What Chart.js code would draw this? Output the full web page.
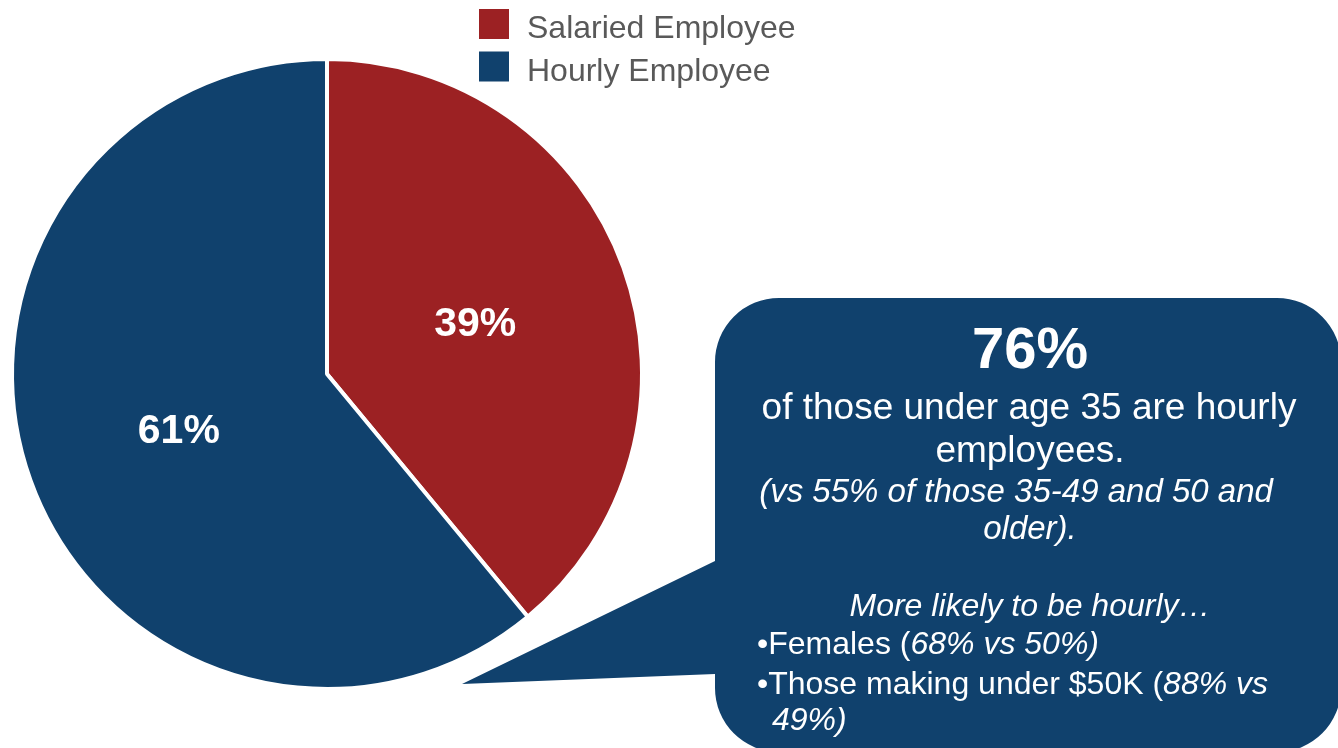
<!DOCTYPE html>
<html>
<head>
<meta charset="utf-8">
<script src="https://cdn.jsdelivr.net/npm/chart.js@4.4.1/dist/chart.umd.min.js"></script>
<style>
  html, body { margin: 0; padding: 0; background: #fff; }
  #wrap { width: 1338px; height: 748px; }
</style>
</head>
<body>
<div id="wrap"><canvas id="employee-type" width="1338" height="748"></canvas></div>
<script>
var labels = ["Salaried Employee", "Hourly Employee"];
var shares = [39, 61];
var colors = ["#9C2123", "#10416D"];

// callout copy
var headline = "76%";
var bodyLines = ["of those under age 35 are hourly", "employees."];
var noteLines = ["(vs 55% of those 35-49 and 50 and", "older)."];
var likelyTitle = "More likely to be hourly\u2026";
// each bullet line is a list of [text, italic] runs
var bulletLines = [
  [["\u2022Females (", false], ["68% vs 50%)", true]],
  [["\u2022Those making under $50K (", false], ["88% vs", true]],
  [["49%)", true]]
];

var FONT = '"Liberation Sans", Arial, sans-serif';
var BLUE = colors[1];

// percentage labels in the middle of each slice
var sliceLabels = {
  id: "sliceLabels",
  afterDatasetsDraw: function(chart) {
    var ctx = chart.ctx;
    var arcs = chart.getDatasetMeta(0).data;
    ctx.save();
    ctx.fillStyle = "#fff";
    ctx.font = "bold 41px " + FONT;
    ctx.textAlign = "center";
    ctx.textBaseline = "middle";
    arcs.forEach(function(arc, i) {
      var p = arc.tooltipPosition();
      ctx.fillText(chart.data.datasets[0].data[i] + "%", p.x, p.y + 4);
    });
    ctx.restore();
  }
};

// square swatch legend at the top
var swatchLegend = {
  id: "swatchLegend",
  afterDraw: function(chart) {
    var ctx = chart.ctx;
    var ds = chart.data.datasets[0];
    ctx.save();
    ctx.font = "32px " + FONT;
    ctx.textAlign = "left";
    ctx.textBaseline = "alphabetic";
    chart.data.labels.forEach(function(lbl, i) {
      var y = 9 + i * 42.5;
      ctx.fillStyle = ds.backgroundColor[i];
      ctx.fillRect(479, y, 30, 30);
      ctx.fillStyle = "#595959";
      ctx.fillText(lbl, 527, y + 29);
    });
    ctx.restore();
  }
};

// speech-bubble callout to the right of the pie
var callout = {
  id: "callout",
  afterDraw: function(chart) {
    var ctx = chart.ctx;
    var x0 = 715, y0 = 298, x1 = 1341, y1 = 752, r = 64;
    ctx.save();
    ctx.fillStyle = BLUE;
    ctx.beginPath();
    ctx.moveTo(x0 + r, y0);
    ctx.lineTo(x1 - r, y0);
    ctx.arcTo(x1, y0, x1, y0 + r, r);
    ctx.lineTo(x1, y1 - r);
    ctx.arcTo(x1, y1, x1 - r, y1, r);
    ctx.lineTo(x0 + r, y1);
    ctx.arcTo(x0, y1, x0, y1 - r, r);
    ctx.lineTo(x0, 674);
    ctx.lineTo(462, 684);
    ctx.lineTo(x0, 561);
    ctx.lineTo(x0, y0 + r);
    ctx.arcTo(x0, y0, x0 + r, y0, r);
    ctx.closePath();
    ctx.fill();

    ctx.fillStyle = "#fff";
    ctx.textBaseline = "alphabetic";
    ctx.textAlign = "center";
    ctx.font = "bold 58px " + FONT;
    ctx.fillText(headline, 1030, 368);

    ctx.font = "37px " + FONT;
    ctx.fillText(bodyLines[0], 1029, 419);
    ctx.fillText(bodyLines[1], 1030, 462);

    ctx.font = "italic 33px " + FONT;
    ctx.fillText(noteLines[0], 1016, 502);
    ctx.fillText(noteLines[1], 1030, 539);

    ctx.font = "italic 32px " + FONT;
    ctx.fillText(likelyTitle, 1030, 616);

    ctx.textAlign = "left";
    var starts = [757, 757, 772];
    var bases = [654, 694, 730];
    bulletLines.forEach(function(runs, i) {
      var x = starts[i];
      runs.forEach(function(run) {
        ctx.font = (run[1] ? "italic " : "") + "32px " + FONT;
        ctx.fillText(run[0], x, bases[i]);
        x += ctx.measureText(run[0]).width;
      });
    });
    ctx.restore();
  }
};

var ctx = document.getElementById("employee-type");
var chartPie = new Chart(ctx, {
  type: "pie",
  data: {
    labels: labels,
    datasets: [
      {
        data: shares,
        backgroundColor: colors,
        borderColor: "#fff",
        borderWidth: 4,
        hoverOffset: 0
      }
    ]
  },
  options: {
    responsive: false,
    devicePixelRatio: 1,
    animation: false,
    layout: { padding: { left: 10, top: 57, right: 694, bottom: 57 } },
    plugins: {
      legend: { display: false },
      tooltip: { enabled: false }
    }
  },
  plugins: [callout, sliceLabels, swatchLegend]
});
</script>
</body>
</html>
